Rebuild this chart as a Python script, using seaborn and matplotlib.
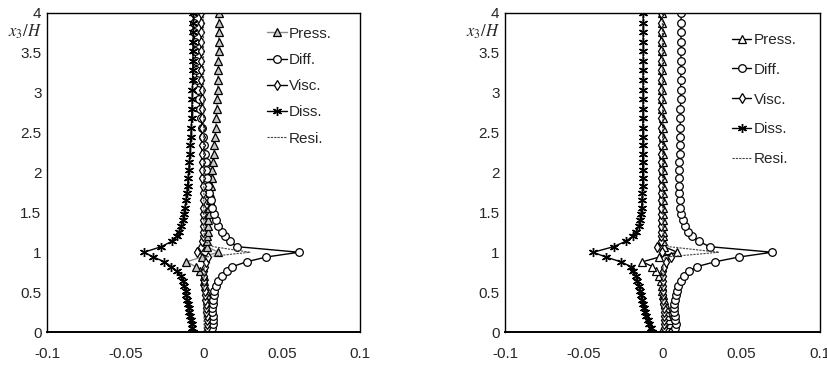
import matplotlib
matplotlib.use("Agg")
import matplotlib.pyplot as plt
import seaborn as sns

sns.set_style("white")
plt.rcParams['font.family'] = ['Liberation Sans', 'DejaVu Sans']
plt.rcParams['mathtext.fontset'] = 'stix'

# heights x3/H (shared by all profiles)
z = [0.00, 0.05, 0.10, 0.15, 0.20, 0.25, 0.30, 0.35, 0.40, 0.46,
     0.52, 0.58, 0.64, 0.70, 0.76, 0.82, 0.88, 0.94, 1.00, 1.07,
     1.14, 1.20, 1.26, 1.33, 1.40, 1.48, 1.56, 1.65, 1.74, 1.83,
     1.93, 2.03, 2.13, 2.23, 2.34, 2.45, 2.56, 2.68, 2.80, 2.92,
     3.04, 3.16, 3.28, 3.40, 3.52, 3.64, 3.76, 3.88, 4.00]

# left panel
press_a = [0.0050, 0.0042, 0.0036, 0.0032, 0.0030, 0.0030, 0.0028, 0.0025, 0.0022, 0.0020,
           0.0015, 0.0010, 0.0005, 0.0000, -0.0020, -0.0050, -0.0110, -0.0010, 0.0094, 0.0023,
           0.0022, 0.0024, 0.0026, 0.0028, 0.0030, 0.0033, 0.0036, 0.0040, 0.0044, 0.0048,
           0.0053, 0.0057, 0.0060, 0.0065, 0.0070, 0.0074, 0.0078, 0.0082, 0.0085, 0.0088,
           0.0090, 0.0092, 0.0094, 0.0095, 0.0096, 0.0097, 0.0098, 0.0098, 0.0099]
diff_a = [0.0045, 0.0055, 0.0060, 0.0060, 0.0058, 0.0056, 0.0057, 0.0060, 0.0063, 0.0067,
          0.0070, 0.0078, 0.0090, 0.0115, 0.0147, 0.0185, 0.0275, 0.0400, 0.0610, 0.0215,
          0.0170, 0.0137, 0.0115, 0.0094, 0.0080, 0.0066, 0.0055, 0.0046, 0.0038, 0.0030,
          0.0024, 0.0018, 0.0013, 0.0008, 0.0003, -0.0002, -0.0008, -0.0015, -0.0022, -0.0030,
          -0.0036, -0.0042, -0.0047, -0.0051, -0.0054, -0.0057, -0.0059, -0.0060, -0.0061]
visc_a = [0.0015, 0.0020, 0.0022, 0.0022, 0.0020, 0.0018, 0.0016, 0.0014, 0.0012, 0.0010,
          0.0008, 0.0006, 0.0004, 0.0003, 0.0005, 0.0010, 0.0015, 0.0030, -0.0040, -0.0015,
          -0.0008, -0.0005, -0.0005, -0.0004, -0.0004, -0.0004, -0.0005, -0.0005, -0.0006, -0.0006,
          -0.0007, -0.0007, -0.0008, -0.0008, -0.0009, -0.0010, -0.0010, -0.0011, -0.0011, -0.0012,
          -0.0012, -0.0013, -0.0013, -0.0014, -0.0014, -0.0015, -0.0015, -0.0015, -0.0016]
diss_a = [-0.0066, -0.0071, -0.0076, -0.0080, -0.0085, -0.0090, -0.0095, -0.0100, -0.0105, -0.0110,
          -0.0115, -0.0122, -0.0130, -0.0145, -0.0170, -0.0205, -0.0250, -0.0320, -0.0380, -0.0270,
          -0.0200, -0.0170, -0.0155, -0.0143, -0.0133, -0.0125, -0.0118, -0.0112, -0.0107, -0.0102,
          -0.0098, -0.0094, -0.0090, -0.0087, -0.0084, -0.0081, -0.0078, -0.0076, -0.0074, -0.0072,
          -0.0071, -0.0070, -0.0069, -0.0068, -0.0067, -0.0066, -0.0066, -0.0065, -0.0065]
resi_a = [0.0005, 0.0005, 0.0004, 0.0004, 0.0003, 0.0003, 0.0003, 0.0002, 0.0002, 0.0002,
          0.0002, 0.0002, 0.0002, 0.0003, 0.0004, 0.0005, 0.0006, 0.0010, 0.0296, 0.0062,
          0.0008, 0.0005, 0.0004, 0.0003, 0.0003, 0.0002, 0.0002, 0.0002, 0.0002, 0.0002,
          0.0001, 0.0001, 0.0001, 0.0001, 0.0001, 0.0001, 0.0001, 0.0001, 0.0001, 0.0001,
          0.0000, 0.0000, 0.0000, 0.0000, 0.0000, 0.0000, 0.0000, 0.0000, 0.0000]

# right panel
press_b = [0.0074, 0.0060, 0.0050, 0.0040, 0.0032, 0.0026, 0.0020, 0.0015, 0.0010, 0.0005,
           0.0000, -0.0005, -0.0010, -0.0020, -0.0040, -0.0063, -0.0127, -0.0020, 0.0095, 0.0010,
           0.0005, 0.0004, 0.0003, 0.0003, 0.0003, 0.0002, 0.0002, 0.0002, 0.0002, 0.0002,
           0.0001, 0.0001, 0.0001, 0.0001, 0.0001, 0.0001, 0.0001, 0.0001, 0.0000, 0.0000,
           0.0000, 0.0000, 0.0000, 0.0000, 0.0000, 0.0000, 0.0000, 0.0000, 0.0000]
diff_b = [0.0063, 0.0080, 0.0085, 0.0082, 0.0078, 0.0075, 0.0074, 0.0076, 0.0080, 0.0085,
          0.0092, 0.0102, 0.0116, 0.0137, 0.0170, 0.0220, 0.0334, 0.0486, 0.0698, 0.0300,
          0.0230, 0.0185, 0.0160, 0.0142, 0.0130, 0.0121, 0.0114, 0.0110, 0.0107, 0.0106,
          0.0106, 0.0107, 0.0108, 0.0110, 0.0111, 0.0112, 0.0113, 0.0114, 0.0115, 0.0116,
          0.0116, 0.0117, 0.0117, 0.0118, 0.0118, 0.0118, 0.0119, 0.0119, 0.0119]
visc_b = [0.0000, 0.0008, 0.0010, 0.0010, 0.0009, 0.0008, 0.0007, 0.0006, 0.0005, 0.0004,
          0.0003, 0.0002, 0.0002, 0.0003, 0.0006, 0.0010, 0.0020, 0.0053, 0.0000, -0.0036,
          -0.0010, -0.0008, -0.0007, -0.0007, -0.0007, -0.0007, -0.0008, -0.0008, -0.0008, -0.0008,
          -0.0009, -0.0009, -0.0009, -0.0009, -0.0010, -0.0010, -0.0010, -0.0010, -0.0010, -0.0010,
          -0.0010, -0.0010, -0.0010, -0.0010, -0.0010, -0.0010, -0.0010, -0.0010, -0.0010]
diss_b = [-0.0063, -0.0075, -0.0085, -0.0094, -0.0102, -0.0110, -0.0117, -0.0124, -0.0130, -0.0137,
          -0.0143, -0.0150, -0.0160, -0.0170, -0.0185, -0.0200, -0.0264, -0.0360, -0.0440, -0.0310,
          -0.0230, -0.0190, -0.0165, -0.0150, -0.0142, -0.0136, -0.0132, -0.0129, -0.0127, -0.0126,
          -0.0125, -0.0125, -0.0125, -0.0125, -0.0124, -0.0124, -0.0124, -0.0124, -0.0123, -0.0123,
          -0.0123, -0.0123, -0.0123, -0.0122, -0.0122, -0.0122, -0.0122, -0.0122, -0.0122]
resi_b = [0.0004, 0.0004, 0.0004, 0.0003, 0.0003, 0.0003, 0.0002, 0.0002, 0.0002, 0.0002,
          0.0002, 0.0002, 0.0002, 0.0003, 0.0004, 0.0005, 0.0008, 0.0020, 0.0360, 0.0040,
          0.0008, 0.0005, 0.0004, 0.0003, 0.0003, 0.0002, 0.0002, 0.0002, 0.0002, 0.0002,
          0.0001, 0.0001, 0.0001, 0.0001, 0.0001, 0.0001, 0.0001, 0.0001, 0.0001, 0.0001,
          0.0000, 0.0000, 0.0000, 0.0000, 0.0000, 0.0000, 0.0000, 0.0000, 0.0000]

labels = ['Press.', 'Diff.', 'Visc.', 'Diss.', 'Resi.']
xticks = [-0.1, -0.05, 0, 0.05, 0.1]
xtick_labels = ['-0.1', '-0.05', '0', '0.05', '0.1']
yticks = [0, 0.5, 1, 1.5, 2, 2.5, 3, 3.5, 4]
ytick_labels = ['0', '0.5', '1', '1.5', '2', '2.5', '3', '3.5', '4']


def draw(ax, series, press_line, press_fill):
    press, diff, visc, diss, resi = series
    sns.lineplot(x=press, y=z, orient='y', sort=False, estimator=None, ax=ax,
                 color=press_line, linewidth=1, marker='^', markersize=6,
                 markerfacecolor=press_fill, markeredgecolor='black',
                 markeredgewidth=0.9, label=labels[0])
    sns.lineplot(x=diff, y=z, orient='y', sort=False, estimator=None, ax=ax,
                 color='black', linewidth=1, marker='o', markersize=5.5,
                 markerfacecolor='white', markeredgecolor='black',
                 markeredgewidth=0.9, label=labels[1])
    sns.lineplot(x=visc, y=z, orient='y', sort=False, estimator=None, ax=ax,
                 color='black', linewidth=1, marker='d', markersize=5.5,
                 markerfacecolor='white', markeredgecolor='black',
                 markeredgewidth=0.9, label=labels[2])
    sns.lineplot(x=diss, y=z, orient='y', sort=False, estimator=None, ax=ax,
                 color='black', linewidth=1, marker=(6, 2, 0), markersize=6.5,
                 markeredgecolor='black', markeredgewidth=1.0, label=labels[3])
    sns.lineplot(x=resi, y=z, orient='y', sort=False, estimator=None, ax=ax,
                 color='#444444', linewidth=0.8, linestyle=(0, (2, 1)),
                 label=labels[4])

    ax.set_xlim(-0.1, 0.1)
    ax.set_ylim(0, 4)
    ax.set_xticks(xticks)
    ax.set_xticklabels(xtick_labels)
    ax.set_yticks(yticks)
    ax.set_yticklabels(ytick_labels)
    ax.tick_params(axis='x', direction='in', length=3, pad=11, labelsize=11, width=1)
    ax.tick_params(axis='y', direction='in', length=0, pad=4, labelsize=11)
    for s in ax.spines.values():
        s.set_visible(True)
        s.set_color('black')
        s.set_linewidth(1)
    ax.spines['bottom'].set_linewidth(1.4)
    ax.set_xlabel('')
    ax.set_ylabel('')
    ax.text(-0.018, 0.94, r'$x_3/H$', transform=ax.transAxes, ha='right',
            va='center', fontsize=12)


fig = plt.figure(figsize=(8.28, 3.65), dpi=100)
ax1 = fig.add_axes([0.0568, 0.0904, 0.378, 0.874])
ax2 = fig.add_axes([0.610, 0.0904, 0.380, 0.874])

draw(ax1, (press_a, diff_a, visc_a, diss_a, resi_a), '#8c8c8c', '#c8c8c8')
draw(ax2, (press_b, diff_b, visc_b, diss_b, resi_b), 'black', 'white')

ax1.legend(loc='upper left', bbox_to_anchor=(0.703, 0.957), frameon=False,
           fontsize=11, labelspacing=0.8, handlelength=1.3, handletextpad=0.15,
           borderpad=0, borderaxespad=0)
ax2.legend(loc='upper left', bbox_to_anchor=(0.72, 0.937), frameon=False,
           fontsize=11, labelspacing=1.03, handlelength=1.3, handletextpad=0.15,
           borderpad=0, borderaxespad=0)

fig.savefig('out.png', dpi=100)
